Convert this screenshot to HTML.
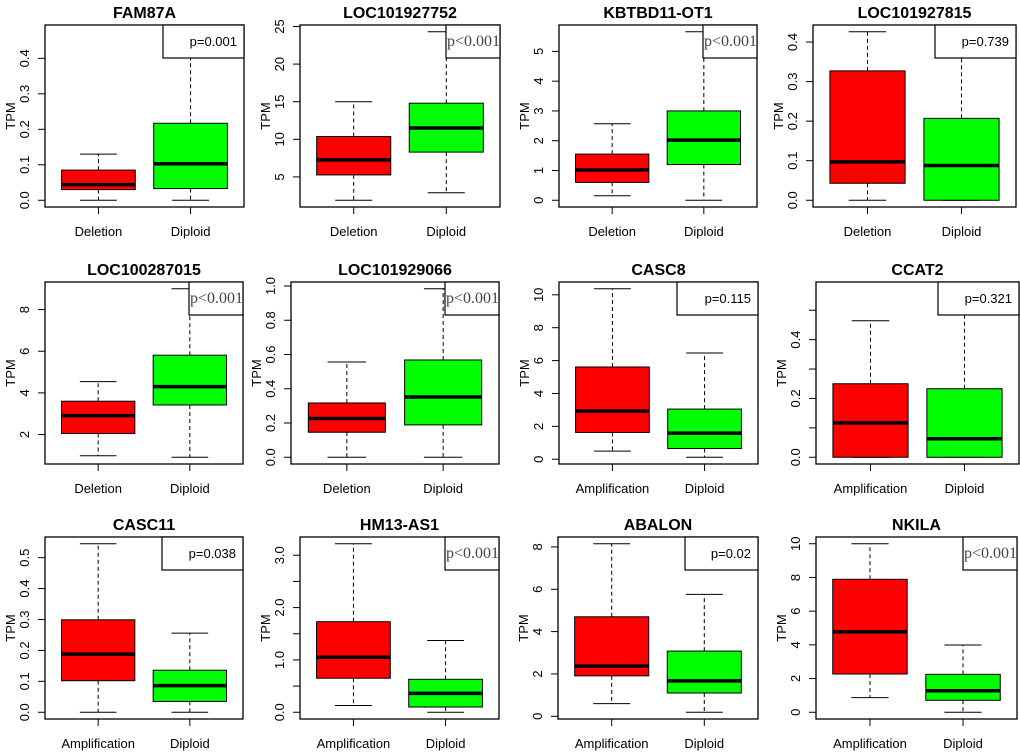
<!DOCTYPE html>
<html><head><meta charset="utf-8"><style>
html,body{margin:0;padding:0;background:#fff;}
svg{display:block;}
text{font-family:"Liberation Sans",sans-serif;}
</style></head><body>
<svg id="fig" width="1020" height="755" viewBox="0 0 1020 755" xmlns="http://www.w3.org/2000/svg"></svg>
<script>
const titles=["FAM87A","LOC101927752","KBTBD11-OT1","LOC101927815","LOC100287015","LOC101929066","CASC8","CCAT2","CASC11","HM13-AS1","ABALON","NKILA"];
const groupA=["Deletion","Deletion","Deletion","Deletion","Deletion","Deletion","Amplification","Amplification","Amplification","Amplification","Amplification","Amplification"];
const pvals=["p=0.001","p<0.001","p<0.001","p=0.739","p<0.001","p<0.001","p=0.115","p=0.321","p=0.038","p<0.001","p=0.02","p<0.001"];
// [group1, Diploid]
const mins=[[0,0],[1.9,2.9],[0.15,0],[0,0],[0.98,0.91],[0,0],[0.49,0.12],[0,0],[0,0],[0.13,0],[0.6,0.19],[0.87,0]];
const q1s=[[0.03,0.033],[5.27,8.3],[0.6,1.2],[0.043,0],[2.05,3.42],[0.146,0.189],[1.63,0.65],[0,0],[0.102,0.035],[0.65,0.1],[1.91,1.1],[2.27,0.71]];
const meds=[[0.044,0.103],[7.26,11.5],[1.02,2.02],[0.097,0.088],[2.91,4.3],[0.226,0.352],[2.93,1.59],[0.117,0.063],[0.188,0.086],[1.05,0.36],[2.37,1.67],[4.78,1.28]];
const q3s=[[0.085,0.217],[10.37,14.8],[1.55,3.0],[0.327,0.207],[3.6,5.81],[0.317,0.568],[5.61,3.05],[0.25,0.233],[0.299,0.136],[1.73,0.63],[4.7,3.08],[7.89,2.25]];
const maxs=[[0.13,0.475],[15.0,24.3],[2.57,5.66],[0.426,0.36],[4.54,9.0],[0.556,0.984],[10.37,6.46],[0.464,0.573],[0.545,0.256],[3.22,1.37],[8.15,5.76],[10.0,3.99]];
const ticks=[[0,0.1,0.2,0.3,0.4],[5,10,15,20,25],[0,1,2,3,4,5],[0,0.1,0.2,0.3,0.4],[2,4,6,8],[0,0.2,0.4,0.6,0.8,1.0],[0,2,4,6,8,10],[0,0.1,0.2,0.3,0.4,0.5],[0,0.1,0.2,0.3,0.4,0.5],[0,0.5,1,1.5,2,2.5,3],[0,2,4,6,8],[0,2,4,6,8,10]];
const tickLabels=[["0.0","0.1","0.2","0.3","0.4"],["5","10","15","20","25"],["0","1","2","3","4","5"],["0.0","0.1","0.2","0.3","0.4"],["2","4","6","8"],["0.0","0.2","0.4","0.6","0.8","1.0"],["0","2","4","6","8","10"],["0.0","","0.2","","0.4",""],["0.0","0.1","0.2","0.3","0.4","0.5"],["0.0","","1.0","","2.0","","3.0"],["0","2","4","6","8"],["0","2","4","6","8","10"]];

const lefts=[45,300,559,813,45,291,559,816,45,300,558,816];
const tops=[25,25,25,25,282,282,282,282,537,537,537,537];
const rights=[244,500,757,1016,243,499,758,1019,243,499,758,1017];
const H=182;
const NS="http://www.w3.org/2000/svg";
const svg=document.getElementById('fig');
function mk(tag,attrs,parent){const e=document.createElementNS(NS,tag);for(const k in attrs)e.setAttribute(k,attrs[k]);(parent||svg).appendChild(e);return e;}

for(let i=0;i<12;i++){
  const L=lefts[i],T=tops[i],R=rights[i],B=T+H;
  const g=mk('g',{});
  
  
  let lo=Math.min(mins[i][0],mins[i][1]),hi=Math.max(maxs[i][0],maxs[i][1]);
  const r=hi-lo;const y0=lo-0.04*r,y1=hi+0.04*r;
  const ys=v=>B-(v-y0)/(y1-y0)*H;
  const xs=v=>L+(v-0.42)/(2.58-0.42)*(R-L);
  const t=mk('text',{x:(L+R)/2,y:T-7,'text-anchor':'middle','font-size':'16','font-weight':'bold'},g);t.textContent=titles[i];
  
  
  ticks[i].forEach((v,j)=>{
    const y=ys(v);
    const tk=mk('line',{x1:L-7,x2:L,y1:y,y2:y,stroke:'#000','stroke-width':1},g);
    
    
    if(tickLabels[i][j]){
      const tl=mk('text',{x:L-16,y:y,'text-anchor':'middle','font-size':'13',transform:`rotate(-90 ${L-16} ${y})`},g);
      tl.textContent=tickLabels[i][j];
      
      
    }
  });
  const ax=mk('line',{x1:L,x2:L,y1:ys(ticks[i][0]),y2:ys(ticks[i][ticks[i].length-1]),stroke:'#000'},g);
  
  
  const yt=mk('text',{x:L-30,y:(T+B)/2,'text-anchor':'middle','font-size':'13',transform:`rotate(-90 ${L-30} ${(T+B)/2})`},g);
  yt.textContent='TPM';
  
  
  const cats=[groupA[i],'Diploid'],cols=['#ff0000','#00ff00'];
  for(let k=0;k<2;k++){
    const cx=xs(k+1),hw=(xs(1.4)-xs(1)),sw=(xs(1.2)-xs(1));
    const bg=mk('g',{},g);
    
    
    mk('line',{x1:cx,x2:cx,y1:ys(q3s[i][k]),y2:ys(maxs[i][k]),stroke:'#000','stroke-dasharray':'4,3'},bg);
    mk('line',{x1:cx,x2:cx,y1:ys(q1s[i][k]),y2:ys(mins[i][k]),stroke:'#000','stroke-dasharray':'4,3'},bg);
    mk('line',{x1:cx-sw,x2:cx+sw,y1:ys(maxs[i][k]),y2:ys(maxs[i][k]),stroke:'#000'},bg);
    mk('line',{x1:cx-sw,x2:cx+sw,y1:ys(mins[i][k]),y2:ys(mins[i][k]),stroke:'#000'},bg);
    const top=ys(q3s[i][k]),bot=ys(q1s[i][k]);
    mk('rect',{x:cx-hw,y:top,width:2*hw,height:Math.max(bot-top,0.5),fill:cols[k],stroke:'#000','stroke-width':1},bg);
    mk('line',{x1:cx-hw,x2:cx+hw,y1:ys(meds[i][k]),y2:ys(meds[i][k]),stroke:'#000','stroke-width':3.5},bg);
    const xt=mk('line',{x1:cx,x2:cx,y1:B,y2:B+7,stroke:'#000'},g);
    
    
    const xl=mk('text',{x:cx,y:B+29,'text-anchor':'middle','font-size':'13'},g);
    xl.textContent=cats[k];
    
    
  }
  const fr=mk('rect',{x:L,y:T,width:R-L,height:H,fill:'none',stroke:'#000','stroke-width':1.3},g);
  
  
  const serif=pvals[i].indexOf('<')>=0;
  const lw=serif?54:(pvals[i].length>6?81:73);
  const lg=mk('g',{},g);
  
  
  mk('rect',{x:R-lw,y:T,width:lw,height:33,fill:'#fff',stroke:'#000','stroke-width':1.2},lg);
  const pt=mk('text',{x:serif?R-lw+1:R-7,y:T+21,'text-anchor':serif?'start':'end','font-size':serif?'16':'13',fill:serif?'#444':'#000'},lg);
  if(serif)pt.setAttribute('style','font-family:"Liberation Serif",serif');
  pt.textContent=pvals[i];
}
</script>
</body></html>
